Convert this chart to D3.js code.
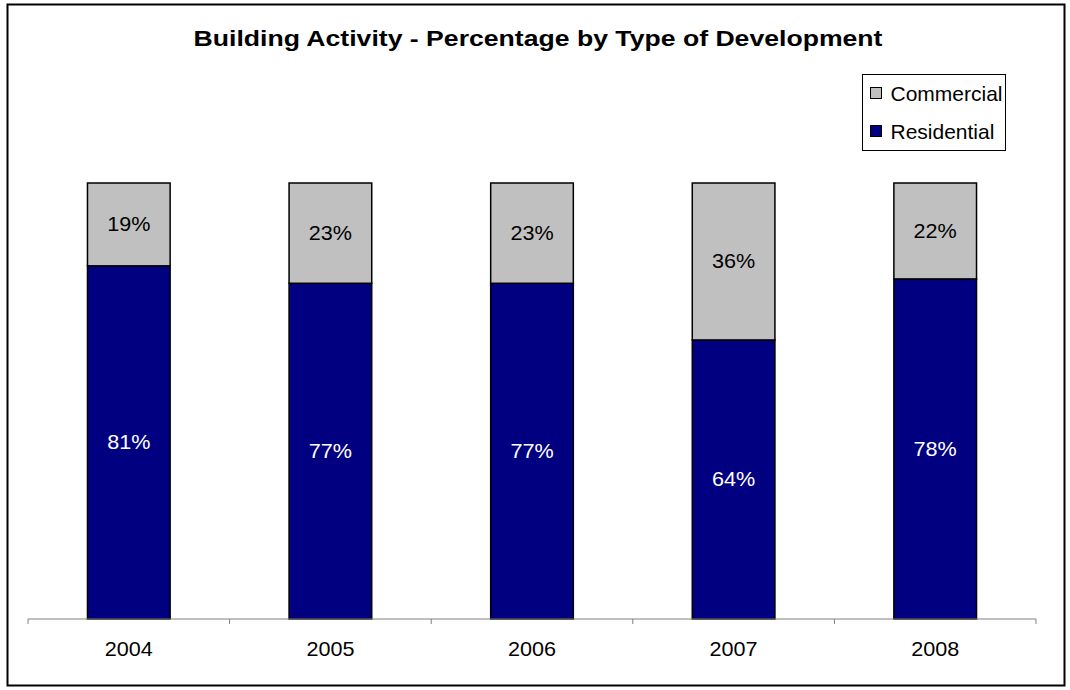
<html>
    <head>
        <style>
        body {
            margin: 0;
            background: #ffffff;
        }
        svg {
            font-family: "Liberation Sans", Arial, sans-serif;
        }
        </style>
    </head>
    <body>
        <svg width="1070" height="690"></svg>
        <script src="https://d3js.org/d3.v7.min.js"></script>
        <script>

            let years = ["2004", "2005", "2006", "2007", "2008"]
            let residential = [81, 77, 77, 64, 78]
            let commercial = [19, 23, 23, 36, 22]
            let seriesNames = ["Commercial", "Residential"]

            let width = 1070
            let height = 690

            // the original text is rendered a bit wider than Arial
            let stretch = 1.08

            let svg = d3.select("svg")

            // chart frame
            svg.append("rect")
                .attr("x", 7.5)
                .attr("y", 4.5)
                .attr("width", 1057)
                .attr("height", 681)
                .attr("fill", "white")
                .attr("stroke", "#000")
                .attr("stroke-width", 2)

            svg.append("text")
                .attr("transform", "translate(538, 46) scale(1.21, 1)")
                .attr("text-anchor", "middle")
                .style("font-size", "22px")
                .style("font-weight", "bold")
                .text("Building Activity - Percentage by Type of Development")

            let margin = {top: 183, right: 34, bottom: 71, left: 28}

            let x = d3.scaleBand()
                .domain(years)
                .range([margin.left, width - margin.right])
                .paddingInner(0.59)
                .paddingOuter(0.295)

            let y = d3.scaleLinear()
                .domain([0, 100])
                .range([height - margin.bottom, margin.top])

            let data = years.map((yr, i) => ({year: yr, Residential: residential[i], Commercial: commercial[i]}))
            let stacked = d3.stack().keys(["Residential", "Commercial"])(data)

            let colors = {Residential: "#000080", Commercial: "#c0c0c0"}
            let labelColors = {Residential: "#ffffff", Commercial: "#000000"}

            let layers = svg.append("g")
                .selectAll("g")
                .data(stacked)
                .join("g")
                .attr("fill", d => colors[d.key])

            layers.selectAll("rect")
                .data(d => d)
                .join("rect")
                .attr("x", d => x(d.data.year))
                .attr("width", x.bandwidth())
                .attr("y", d => y(d[1]))
                .attr("height", d => y(d[0]) - y(d[1]))
                .attr("stroke", "#000")
                .attr("stroke-width", 1.5)

            layers.each(function (layer) {
                d3.select(this).selectAll("text")
                    .data(layer)
                    .join("text")
                    .attr("transform", d => `translate(${x(d.data.year) + x.bandwidth() / 2}, ${(y(d[0]) + y(d[1])) / 2 + 7}) scale(${stretch}, 1)`)
                    .attr("text-anchor", "middle")
                    .attr("fill", labelColors[layer.key])
                    .style("font-size", "20px")
                    .text(d => (d[1] - d[0]) + "%")
            })

            // x axis with ticks between categories
            let xAxis = svg.append("g")
                .attr("class", "x axis")
                .attr("transform", `translate(0, ${height - margin.bottom})`)

            xAxis.append("line")
                .attr("x1", margin.left)
                .attr("x2", width - margin.right)
                .attr("stroke", "#808080")

            let step = x.step()
            let edges = d3.range(years.length + 1).map(i => margin.left + i * step)
            xAxis.selectAll(".tick")
                .data(edges)
                .join("line")
                .attr("class", "tick")
                .attr("x1", d => d)
                .attr("x2", d => d)
                .attr("y1", 0)
                .attr("y2", 5)
                .attr("stroke", "#808080")

            xAxis.selectAll("text")
                .data(years)
                .join("text")
                .attr("transform", d => `translate(${x(d) + x.bandwidth() / 2}, 37) scale(${stretch}, 1)`)
                .attr("text-anchor", "middle")
                .style("font-size", "20px")
                .text(d => d)

            // legend
            let legend = svg.append("g").attr("transform", "translate(862.5, 74.5)")
            legend.append("rect")
                .attr("width", 143)
                .attr("height", 76)
                .attr("fill", "white")
                .attr("stroke", "#000")

            let items = legend.selectAll(".item")
                .data(seriesNames)
                .join("g")
                .attr("class", "item")
                .attr("transform", (d, i) => `translate(8, ${19 + i * 38})`)

            items.append("rect")
                .attr("x", 0)
                .attr("y", -6)
                .attr("width", 11)
                .attr("height", 11)
                .attr("fill", d => colors[d])
                .attr("stroke", "#000")

            items.append("text")
                .attr("transform", `translate(20, 7) scale(1.05, 1)`)
                .style("font-size", "20px")
                .text(d => d)

        </script>
    </body>
</html>
